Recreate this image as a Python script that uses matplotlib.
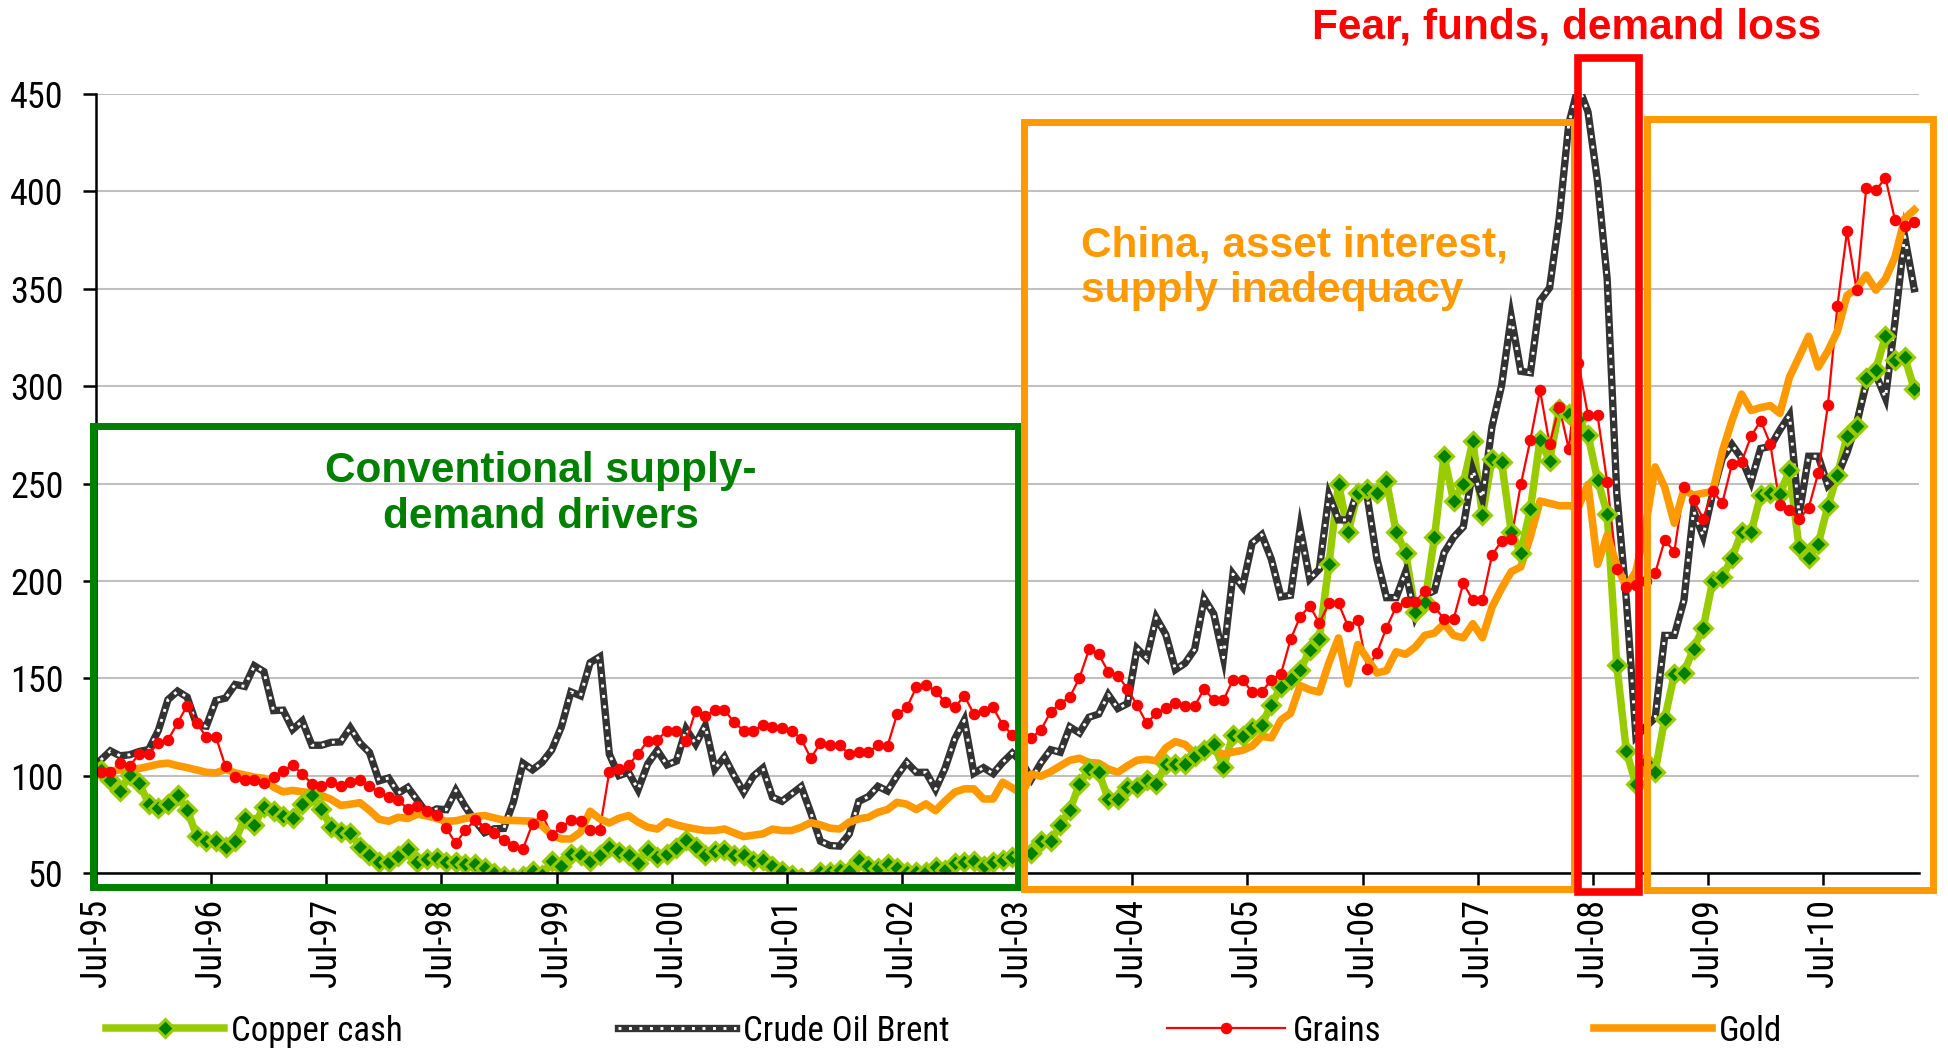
import os
import matplotlib
matplotlib.use("Agg")
import matplotlib.pyplot as plt
from matplotlib.patches import Rectangle
from matplotlib.lines import Line2D
from matplotlib.legend_handler import HandlerTuple
from matplotlib import font_manager as fm
import numpy as np

# ---------------- data (monthly index, Jul-95 = first month) ----------------
tick_labels = ["Jul-95", "Jul-96", "Jul-97", "Jul-98", "Jul-99", "Jul-00", "Jul-01", "Jul-02",
               "Jul-03", "Jul-04", "Jul-05", "Jul-06", "Jul-07", "Jul-08", "Jul-09", "Jul-10"]

copper = [103, 97.5, 92, 100.5, 96, 85.6, 83.4, 85.6, 89.8, 82.5, 69, 66.6, 66.6, 63.6, 66.4, 78.3,
          74.9, 83.9, 81.7, 79.3, 78, 85.6, 89.8, 82.7, 73.7, 71.2, 70.7, 63.6, 59.3, 55.4, 55.9, 58.5,
          62.4, 55.4, 57.3, 57.6, 55.9, 55.9, 54.7, 54.6, 52.5, 50, 48.5, 47.5, 48.5, 51, 49, 56,
          53.8, 59.8, 59, 56.1, 59.5, 63.2, 60.7, 59, 55.2, 62, 58.1, 59.8, 62.7, 66.7, 63.2, 59.3,
          61.5, 62, 59, 59.3, 56.4, 56.9, 53.8, 50.8, 49, 47.5, 46.5, 50.4, 50.4, 51.3, 50.8, 56.8,
          53.8, 52.5, 54.7, 52.5, 50.4, 50.4, 50.4, 53.3, 51.3, 55, 55.6, 56.4, 53.8, 55.6, 56.9, 58.4,
          59, 60.4, 66.3, 66.3, 74.7, 82.3, 95.8, 103.4, 101.7, 88.2, 88.2, 94.1, 94.1, 97.5, 95.8, 105.9,
          105.9, 105.9, 110.1, 113.1, 116, 104.2, 121, 120.2, 124.4, 126.1, 136.5, 145.5, 149.7, 154.2, 164.3, 170.4,
          208.6, 249.8, 224.9, 245, 247, 245, 251.2, 225.3, 214.4, 184, 189, 222.4, 264, 241, 250, 271.8,
          233.8, 262.8, 261, 225.3, 214.4, 237, 272.5, 261.6, 288.3, 285.8, 283, 274.9, 252, 234.5, 157, 112.6,
          95.5, 107, 102.1, 129.2, 152, 152.8, 165.2, 175.7, 199.9, 202, 211.7, 224.9, 224.9, 244.1, 244.9, 244.6,
          256.7, 217.3, 212, 219.1, 238.3, 254.6, 274.3, 279.6, 304, 308.5, 325.6, 313.2, 315.1, 298.5]

brent = [108, 112.7, 110.2, 110.7, 112.4, 113.4, 123.2, 139, 143.4, 140.3, 126, 125.4, 138.6, 139.8, 146.8, 145.8,
         156.4, 153.4, 133.4, 133.6, 123.7, 128.1, 115.6, 115.6, 117.1, 117.3, 124.6, 116.8, 111.9, 97.3, 98.8, 91,
         94, 87.3, 80.5, 82.9, 82.5, 92.4, 83.9, 76.8, 70.7, 72.7, 72.9, 86.4, 106.4, 103, 106.8, 113.2,
         125, 143, 141, 158, 161, 111, 100, 101.7, 92.8, 106, 113, 105.5, 107.5, 124, 116.2, 125.6,
         103.4, 109.6, 100, 91.5, 99.7, 103.9, 88.9, 86.8, 90.6, 94.4, 80.9, 66.3, 64.1, 63.8, 70, 86.8,
         89.2, 94.5, 92.1, 100, 106.8, 101.7, 101.7, 93, 103.9, 118.8, 128.4, 101.2, 104.1, 101, 106.8, 111.6,
         106.9, 98.3, 106.7, 113.3, 112, 125, 121.9, 130, 131.6, 141.6, 134.5, 137, 165.3, 160.4, 181.1, 172.4,
         154.4, 157.7, 164.8, 190.9, 183, 160.6, 203.5, 197, 219.5, 223.7, 211.1, 191.8, 192.6, 227.1, 201, 206,
         244, 231.3, 231.3, 246.5, 243, 211.3, 191.4, 191.4, 204.7, 181.7, 192.6, 195, 214.4, 222.4, 227.7, 256.8,
         242.3, 279.3, 300.4, 335.5, 307.6, 306.9, 343.9, 350.5, 386.3, 434.7, 454, 440.8, 405, 355, 245, 190,
         120, 125, 129.7, 172, 172, 190, 236, 223, 245, 263, 270, 263, 251, 268, 269, 277.5,
         285, 234, 264, 264, 249, 254, 266, 281, 301, 306, 294, 333, 377, 350]

grains = [102, 101.7, 106.4, 105, 111, 111, 117, 118.3, 127, 136, 127, 119.8, 119.8, 104.7, 99.2, 97.8,
          97.5, 96.1, 99.2, 102.5, 105.4, 100.8, 95.8, 94.9, 96.6, 94.9, 96.6, 97.5, 94.9, 91.5, 89, 87.3,
          83, 84.2, 81.7, 79.7, 72.9, 65.3, 72, 77.1, 72.9, 70.3, 67, 64.1, 62.4, 75.4, 80, 69.3,
          73.6, 77, 76.9, 72.3, 72.3, 102, 103.4, 105.5, 111.1, 117.9, 118.3, 123.1, 123.1, 117.9, 133.3, 130.4,
          133.8, 133.8, 127.4, 123.1, 123.1, 126, 124.8, 124.3, 123.1, 118.8, 108.9, 116.8, 115.7, 115.7, 111.1, 112.3,
          112, 115.7, 115.4, 131.6, 135, 145.3, 146.5, 143.6, 137.6, 135, 141, 131.6, 133.3, 135, 126, 121,
          121, 119.4, 123.6, 132.8, 137, 140.4, 150.2, 164.8, 162.3, 153.4, 151.3, 144.6, 136.2, 126.9, 132, 134.5,
          137.4, 135.7, 135.7, 144.6, 138.7, 138.7, 149.2, 149.2, 142.9, 142.9, 149.2, 152.2, 169.9, 181.6, 187.2, 178.3,
          188.4, 188.4, 176.6, 180, 155, 163, 176, 186.6, 189, 189, 195, 186.6, 180.5, 180.5, 198.7, 190.2,
          190.2, 213.2, 220.5, 221.7, 249.5, 272.5, 298, 270.1, 289.5, 267.7, 312, 285, 285, 250.6, 206, 196.7,
          198, 200, 204, 221, 215, 248, 241.4, 232, 246, 240, 259.8, 261, 274.3, 282.2, 270.4, 238.8,
          236.2, 231.7, 237.5, 255.4, 290.1, 341.4, 379.5, 349.3, 401.8, 400.5, 407, 385.3, 382.1, 384.2]

gold = [100.5, 102.4, 102.9, 103.4, 103.7, 104.7, 105.9, 106.4, 105.1, 104.1, 102.9, 101.7, 101.4, 103.2, 101.4, 100.3,
        99.2, 98.6, 94.1, 91.7, 92.4, 91.7, 91.2, 89.8, 87.8, 84.7, 85.3, 86.1, 82.2, 77.6, 76.6, 78.6,
        78, 80.2, 79.3, 78, 76.6, 76.8, 78, 79, 79.5, 78.3, 77.1, 77, 76.8, 76.6, 74.2, 69.5,
        67.5, 67.5, 71, 81.7, 77.8, 75.7, 78.1, 79.5, 76.1, 73.5, 72.6, 76.4, 74.7, 73.5, 72.6, 71.8,
        71.8, 72.6, 70.6, 68.7, 69.4, 70.1, 72.5, 71.8, 71.8, 73.5, 75.9, 74.7, 73, 72.6, 76.1, 77.8,
        78.6, 81.2, 82.6, 86.3, 85.3, 82.6, 85.5, 82, 87, 91.5, 93.2, 93.2, 88, 88, 96.6, 93.7,
        90.6, 100.8, 99.7, 102, 105, 107.9, 108.9, 106.7, 106.4, 103.4, 101.7, 105, 107.9, 108.4, 107.6, 114.3,
        117.5, 116, 111.4, 113.1, 113, 111, 112.1, 113, 115.2, 120.2, 119.4, 128.6, 132, 146.3, 144.1, 142.9,
        158, 170.7, 147.1, 167.3, 160, 152.7, 153.9, 163.6, 162.3, 166, 172, 173.2, 178, 172, 170.8, 178,
        170.8, 186.6, 196.2, 204.7, 207.2, 222.9, 241, 239.8, 238.6, 238.6, 238, 249.5, 208.5, 223.5, 208, 196.7,
        205, 228, 258.5, 248, 229.6, 246.7, 244, 245, 245.9, 266.4, 282.2, 295.9, 287.5, 289, 290, 286,
        304.6, 315, 325.6, 309.8, 318, 328.2, 346.6, 350, 357, 349.3, 355, 366.3, 386, 390.5]

series_names = ["Copper cash", "Crude Oil Brent", "Grains", "Gold"]


# ---------------- fonts: look for an Arial-Narrow-like face ----------------
def find_narrow():
    ranks = ["liberation", "arial", "roboto", "notosans-", "opensans", "dejavusans"]
    best = None
    for e in fm.fontManager.ttflist:
        fn = os.path.basename(e.fname).lower().replace(" ", "")
        if not ("narrow" in fn or "condensed" in fn):
            continue
        if any(k in fn for k in ["bold", "italic", "oblique", "light", "thin", "medium",
                                  "black", "semi", "extra", "ultra", "mono", "serif"]):
            continue
        for r, key in enumerate(ranks):
            if fn.startswith(key):
                if best is None or r < best[0]:
                    best = (r, e.fname)
    return best


nar = find_narrow()
if nar is not None:
    TICK_FP = fm.FontProperties(fname=nar[1], size=26)
    LEG_FP = fm.FontProperties(fname=nar[1], size=25)
else:
    TICK_FP = fm.FontProperties(family="Liberation Sans", size=22.4)
    LEG_FP = fm.FontProperties(family="Liberation Sans", size=22.0)
BOLD = "Liberation Sans"
plt.rcParams["font.family"] = ["Liberation Sans", "DejaVu Sans"]

# ---------------- colours ----------------
C_COPPER_LINE = "#99CC00"
C_COPPER_MK = "#008000"
C_BRENT = "#333333"
C_GRAINS = "#FF0000"
C_GOLD = "#FF9900"
C_GREEN_BOX = "#008000"

n = len(copper)
x = np.arange(n) + 0.5

fig = plt.figure(figsize=(19.49, 10.51), dpi=100)
ax = fig.add_axes([0.04926, 0.16936, 0.93535, 0.7412])

brent_white = dict(color="white", lw=2.1, dashes=(1.0, 2.6), dash_capstyle="butt")
copper_mk = dict(marker="D", ms=9.3, mfc=C_COPPER_MK, mec=C_COPPER_LINE, mew=2.2)
grains_mk = dict(marker="o", ms=7.3, mfc=C_GRAINS, mec=C_GRAINS)

# lines first, markers on top (as the spreadsheet draws them)
ax.plot(x, copper, color=C_COPPER_LINE, lw=5.4, solid_joinstyle="round", zorder=3)
ax.plot(x, brent, color=C_BRENT, lw=5.3, solid_joinstyle="miter", zorder=3.1)
ax.plot(x, brent, zorder=3.15, **brent_white)
ax.plot(x, grains, color=C_GRAINS, lw=1.6, zorder=3.2)
ax.plot(x, gold, color=C_GOLD, lw=5.5, solid_joinstyle="round", zorder=3.3)
ax.plot(x, copper, ls="none", zorder=4, **copper_mk)
ax.plot(x, grains, ls="none", zorder=4.1, **grains_mk)

# axes styling
ax.set_xlim(0, n)
ax.set_ylim(50, 450)
ax.set_yticks(np.arange(50, 451, 50))
ax.set_xticks(np.arange(len(tick_labels)) * 12)
ax.set_xticklabels(tick_labels, rotation=90)
for lbl in ax.get_xticklabels() + ax.get_yticklabels():
    lbl.set_fontproperties(TICK_FP)
ax.tick_params(axis="y", length=9.5, width=1.8, pad=14, direction="out")
ax.tick_params(axis="x", length=8.5, width=1.8, pad=10, direction="out")
for s in ["top", "right"]:
    ax.spines[s].set_visible(False)
for s in ["left", "bottom"]:
    ax.spines[s].set_linewidth(1.8)
    ax.spines[s].set_zorder(5)
ax.yaxis.grid(True, color="#C0C0C0", lw=1.5, zorder=0)
ax.set_axisbelow(True)

# annotation boxes
box_kw = dict(fill=False, lw=5.0, clip_on=False, zorder=6, joinstyle="miter")
ax.add_patch(Rectangle((-0.3, 42.8), 96.4, 279.5 - 42.8, edgecolor=C_GREEN_BOX, **box_kw))
ax.add_patch(Rectangle((96.7, 41.8), 154.0 - 96.7, 435.6 - 41.8, edgecolor=C_GOLD, **box_kw))
ax.add_patch(Rectangle((161.7, 41.3), 191.5 - 161.7, 437.3 - 41.3, edgecolor=C_GOLD, **box_kw))
ax.add_patch(Rectangle((154.5, 40.2), 160.8 - 154.5, 468.5 - 40.2, edgecolor=C_GRAINS,
                       fill=False, lw=5.5, clip_on=False, zorder=6.5, joinstyle="miter"))

ax.text(46.4, 244.6, "Conventional supply-\ndemand drivers", color=C_GREEN_BOX, fontsize=30.5,
        fontweight="bold", family=BOLD, ha="center", va="center", linespacing=1.2)
ax.text(102.7, 360.6, "China, asset interest,\nsupply inadequacy", color=C_GOLD, fontsize=30.5,
        fontweight="bold", family=BOLD, ha="left", va="center", linespacing=1.2)
ax.text(153.3, 484, "Fear, funds, demand loss", color=C_GRAINS, fontsize=30.5,
        fontweight="bold", family=BOLD, ha="center", va="center", clip_on=False)

# legend (four separate entries spread along the bottom)
h_copper = Line2D([], [], color=C_COPPER_LINE, lw=5.4, **copper_mk)
h_brent = (Line2D([], [], color=C_BRENT, lw=5.3), Line2D([], [], **brent_white))
h_grains = Line2D([], [], color=C_GRAINS, lw=1.6, **grains_mk)
h_gold = Line2D([], [], color=C_GOLD, lw=5.5)
handles = [h_copper, h_brent, h_grains, h_gold]
anchors = [0.0544, 0.317, 0.599, 0.818]
fs_px = LEG_FP.get_size_in_points() * 100 / 72.0
for h, name, ax_x in zip(handles, series_names, anchors):
    fig.legend(handles=[h], labels=[name], loc="center left", bbox_to_anchor=(ax_x, 0.019),
               frameon=False, prop=LEG_FP, handlelength=118.0 / fs_px, handletextpad=7.0 / fs_px,
               borderpad=0, borderaxespad=0, numpoints=1,
               handler_map={tuple: HandlerTuple(ndivide=1, pad=0)})

fig.savefig("out.png", dpi=100)
